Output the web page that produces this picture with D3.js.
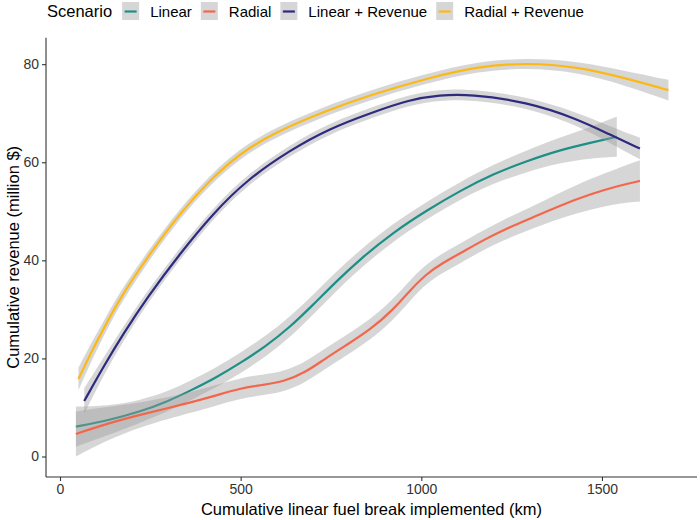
<!DOCTYPE html>
<html>
<head>
<meta charset="utf-8">
<script src="https://cdn.jsdelivr.net/npm/d3@7"></script>
<style>
  body { margin: 0; background: white; }
  svg { display: block; font-family: "Liberation Sans", Arial, sans-serif; }
</style>
</head>
<body>
<script>
// scenario names and colours (legend order)
var scenarios = ["Linear", "Radial", "Linear + Revenue", "Radial + Revenue"];
var colors = ["#1d8f86", "#f2674c", "#2d2a7f", "#fdb913"];

// x = km of fuel break, fit = smoothed revenue (million $), se = half width of grey band
var kmLinear  = [44, 130, 221, 300, 360, 430, 498, 570, 637, 700, 766, 830, 920, 1015, 1110, 1199, 1290, 1384, 1470, 1541];
var fitLinear = [6.1, 7.3, 9.1, 11.3, 13.4, 16.0, 19.0, 22.5, 26.4, 30.9, 35.8, 40.2, 45.6, 50.2, 54.3, 57.6, 60.2, 62.5, 64.0, 65.2];
var seLinear  = [4.1, 3.0, 2.3, 2.0, 2.0, 2.0, 2.1, 2.1, 2.1, 2.0, 2.0, 1.9, 1.8, 1.8, 1.8, 1.9, 2.2, 2.6, 3.2, 4.1];

var kmRadial  = [44, 130, 221, 300, 360, 430, 498, 560, 618, 680, 729, 790, 858, 922, 970, 1015, 1060, 1107, 1171, 1230, 1292, 1380, 1476, 1545, 1605];
var fitRadial = [4.6, 6.7, 8.5, 9.9, 11.0, 12.4, 13.9, 14.6, 15.2, 17.2, 19.7, 22.6, 25.8, 29.9, 34.0, 37.3, 39.5, 41.4, 44.1, 46.3, 48.2, 51.1, 53.7, 55.2, 56.2];
var seRadial  = [4.6, 3.4, 2.5, 2.2, 2.1, 2.1, 2.1, 2.1, 2.1, 2.1, 2.1, 2.1, 2.1, 2.1, 2.1, 2.0, 2.0, 2.0, 2.0, 2.1, 2.2, 2.6, 3.2, 3.6, 4.2];

var kmLinRev  = [67, 120, 175, 240, 332, 424, 517, 637, 747, 858, 969, 1050, 1135, 1292, 1430, 1520, 1605];
var fitLinRev = [11.3, 18.3, 25.0, 32.3, 41.4, 49.6, 56.4, 62.5, 66.9, 70.0, 72.8, 73.7, 73.9, 72.3, 68.9, 65.7, 62.8];
var seLinRev  = [2.6, 1.8, 1.5, 1.3, 1.2, 1.1, 1.1, 1.1, 1.1, 1.1, 1.1, 1.1, 1.1, 1.1, 1.3, 1.7, 2.2];

var kmRadRev  = [51, 90, 129, 166, 249, 332, 415, 498, 590, 729, 858, 1015, 1153, 1292, 1430, 1568, 1684];
var fitRadRev = [15.8, 21.8, 27.2, 32.3, 41.4, 49.6, 56.4, 61.8, 65.9, 70.3, 73.7, 77.1, 79.5, 80.3, 79.5, 77.1, 74.7];
var seRadRev  = [2.3, 1.8, 1.5, 1.3, 1.1, 1.0, 1.0, 1.0, 1.0, 1.0, 1.0, 1.0, 1.0, 1.0, 1.1, 1.5, 2.1];

var xTicks = [0, 500, 1000, 1500];
var yTicks = [0, 20, 40, 60, 80];

var xTitle = "Cumulative linear fuel break implemented (km)";
var yTitle = "Cumulative revenue (million $)";

// pack the four groups
var allKm = [kmLinear, kmRadial, kmLinRev, kmRadRev];
var allFit = [fitLinear, fitRadial, fitLinRev, fitRadRev];
var allSe = [seLinear, seRadial, seLinRev, seRadRev];

var series = scenarios.map(function(name, i) {
  return {
    name: name,
    color: colors[i],
    points: allKm[i].map(function(k, j) {
      return { km: k, fit: allFit[i][j], lo: allFit[i][j] - allSe[i][j], hi: allFit[i][j] + allSe[i][j] };
    })
  };
});

var w = 700;
var h = 520;

var xScale = d3.scaleLinear()
  .domain([-38.75, 1763])
  .range([46, 697]);

var yScale = d3.scaleLinear()
  .domain([-4.18, 85.4])
  .range([477, 37.7]);

var svg = d3.select("body").append("svg")
  .attr("width", w)
  .attr("height", h);

// read points are a bit noisy, basis keeps the curves smooth
var curve = d3.curveBasis;

var band = d3.area()
  .curve(curve)
  .x(function(d) { return xScale(d.km); })
  .y0(function(d) { return yScale(d.lo); })
  .y1(function(d) { return yScale(d.hi); });

var line = d3.line()
  .curve(curve)
  .x(function(d) { return xScale(d.km); })
  .y(function(d) { return yScale(d.fit); });

// each group: ribbon then line, like geom_smooth
var groups = svg.append("g").selectAll("g")
  .data(series)
  .enter()
  .append("g");

groups.append("path")
  .attr("d", function(d) { return band(d.points); })
  .attr("fill", "#999999")
  .attr("fill-opacity", 0.4);

groups.append("path")
  .attr("d", function(d) { return line(d.points); })
  .attr("fill", "none")
  .attr("stroke", function(d) { return d.color; })
  .attr("stroke-width", 2.2);

// axes
var xAxis = svg.append("g")
  .attr("transform", "translate(0," + 477 + ")")
  .call(d3.axisBottom(xScale).tickValues(xTicks).tickFormat(d3.format("d"))
    .tickSize(4).tickPadding(3).tickSizeOuter(0));

var yAxis = svg.append("g")
  .attr("transform", "translate(" + 46 + ",0)")
  .call(d3.axisLeft(yScale).tickValues(yTicks).tickFormat(d3.format("d"))
    .tickSize(4).tickPadding(3).tickSizeOuter(0));

[xAxis, yAxis].forEach(function(ax) {
  ax.select(".domain").attr("stroke", "#333").attr("stroke-width", 1.1);
  ax.selectAll(".tick line").attr("stroke", "#333").attr("stroke-width", 1.1);
  ax.selectAll(".tick text")
    .attr("fill", "#333")
    .style("font-size", "14px")
    .style("font-family", "'Liberation Sans', Arial, sans-serif");
});

// stretch the axis lines to the panel edges
xAxis.select(".domain").attr("d", "M46,0H697");
yAxis.select(".domain").attr("d", "M0,477V37.7");

svg.append("text")
  .attr("x", (46 + 697) / 2)
  .attr("y", 515)
  .attr("text-anchor", "middle")
  .attr("font-size", 16.5)
  .attr("fill", "black")
  .text(xTitle);

svg.append("text")
  .attr("transform", "translate(19," + ((477 + 37.7) / 2) + ") rotate(-90)")
  .attr("text-anchor", "middle")
  .attr("font-size", 16.5)
  .attr("fill", "black")
  .text(yTitle);

// legend on top
var legend = svg.append("g");

var lx = 47;
var title = legend.append("text")
  .attr("x", lx)
  .attr("y", 17)
  .attr("font-size", 16.5)
  .attr("fill", "black")
  .text("Scenario");
lx += title.node().getComputedTextLength() + 10;

series.forEach(function(s) {
  legend.append("rect")
    .attr("x", lx)
    .attr("y", 2)
    .attr("width", 17)
    .attr("height", 18)
    .attr("fill", "#d6d6d6");
  legend.append("line")
    .attr("x1", lx + 2.5)
    .attr("x2", lx + 14.5)
    .attr("y1", 11.5)
    .attr("y2", 11.5)
    .attr("stroke", s.color)
    .attr("stroke-width", 2.2);
  var t = legend.append("text")
    .attr("x", lx + 28)
    .attr("y", 17)
    .attr("font-size", 15)
    .attr("fill", "black")
    .text(s.name);
  lx += 28 + t.node().getComputedTextLength() + 9;
});
</script>
</body>
</html>
